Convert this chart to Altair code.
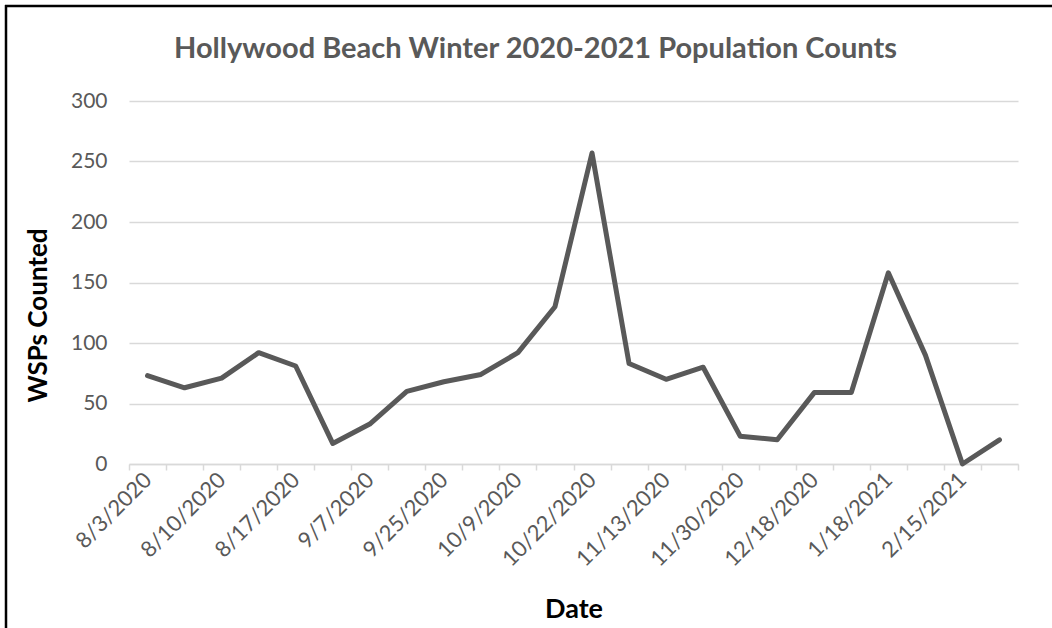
import altair as alt
import pandas as pd

dates = ["8/3/2020", "8/6/2020", "8/10/2020", "8/13/2020", "8/17/2020", "8/31/2020",
         "9/7/2020", "9/18/2020", "9/25/2020", "10/2/2020", "10/9/2020", "10/15/2020",
         "10/22/2020", "11/5/2020", "11/13/2020", "11/20/2020", "11/30/2020", "12/8/2020",
         "12/18/2020", "1/5/2021", "1/18/2021", "2/1/2021", "2/15/2021", "2/22/2021"]
counts = [73, 63, 71, 92, 81, 17, 33, 60, 68, 74, 92, 130, 257, 83, 70, 80, 23, 20,
          59, 59, 158, 90, 0, 20]
shown_labels = dates[::2]
y_ticks = [0, 50, 100, 150, 200, 250, 300]

df = pd.DataFrame({"Date": dates, "Count": counts})

gray = "#595959"
grid = "#d9d9d9"
font = "Lato"

label_list = "[" + ",".join("'" + d + "'" for d in shown_labels) + "]"

line = alt.Chart(df).mark_line(
    color=gray, strokeWidth=5, strokeJoin="round", strokeCap="round"
).encode(
    x=alt.X("Date:N", sort=dates,
            scale=alt.Scale(type="band", paddingInner=0, paddingOuter=0),
            axis=alt.Axis(
                title="Date", titleFont=font, titleFontSize=27, titleFontWeight="bold",
                titleColor="black", titleBaseline="middle", titleY=145,
                labelExpr=f"indexof({label_list}, datum.value) >= 0 ? datum.label : ''",
                labelAngle=-45, labelAlign="right", labelBaseline="middle",
                labelFont=font, labelFontSize=22, labelColor=gray, labelPadding=6,
                labelOverlap=False, labelBound=False,
                tickBand="extent", tickColor=grid, tickSize=6, tickWidth=1.5,
                domainColor=grid, domainWidth=1.5, grid=False)),
    y=alt.Y("Count:Q",
            scale=alt.Scale(domain=[0, 300], nice=False),
            axis=alt.Axis(
                title="WSPs Counted", titleFont=font, titleFontSize=26,
                titleFontWeight="bold", titleColor="black",
                titleAngle=-90, titleAlign="center", titleBaseline="middle",
                titleX=-91, titleY=214,
                values=y_ticks, labelFont=font, labelFontSize=21, labelColor=gray,
                labelPadding=22, ticks=False, domain=False,
                grid=True, gridColor=grid, gridWidth=1.5))
)

frame_data = alt.Data(values=[{"k": 1}])
top_rule = alt.Chart(frame_data).mark_rule(color="black", strokeWidth=2.5).encode(
    x=alt.value(-124), x2=alt.value(925), y=alt.value(-95))
left_rule = alt.Chart(frame_data).mark_rule(color="black", strokeWidth=2.5).encode(
    x=alt.value(-123), y=alt.value(-96), y2=alt.value(530))

chart = alt.layer(line, top_rule, left_rule).properties(
    width=889, height=363,
    title=alt.TitleParams(
        "Hollywood Beach Winter 2020-2021 Population Counts",
        font=font, fontSize=29, fontWeight="bold", color=gray,
        anchor="middle", dx=-38, dy=60, offset=0),
    padding={"left": 129, "top": 101, "right": 34, "bottom": 164},
    autosize=alt.AutoSizeParams(type="none"),
).configure_view(stroke=None)

chart.save("out.html", embed_options={"renderer": "svg", "actions": False})
